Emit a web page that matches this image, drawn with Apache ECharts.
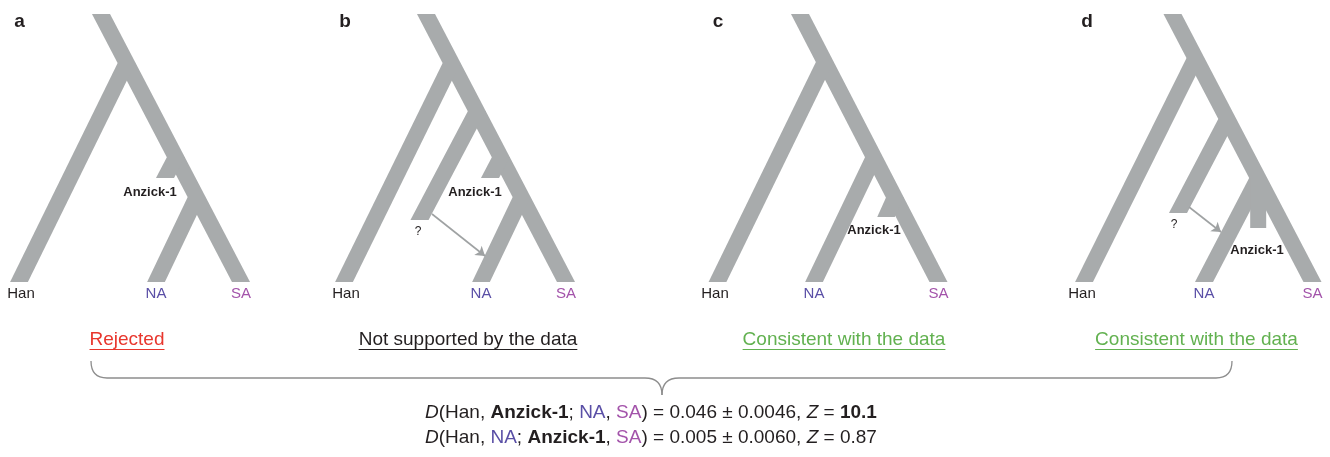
<!DOCTYPE html>
<html>
<head>
<meta charset="utf-8">
<script src="https://cdn.jsdelivr.net/npm/echarts@6/dist/echarts.min.js"></script>
<style>
  html, body { margin: 0; padding: 0; background: #ffffff; }
  #main { width: 1330px; height: 457px; }
</style>
</head>
<body>
<div id="main"></div>
<script>
// panel letters and their left offset on the page
const panelNames = ['a', 'b', 'c', 'd'];
const panelLeft = [0, 325, 699, 1071];
const panelWidth = 255;

// tree branches per panel: [x0, y0, x1, y1] (panel units, y grows toward present)
// first branch is the trunk root -> SA
const branchesA = [[101, 14, 241, 282], [126.6, 63, 19, 282], [176, 157, 165, 178], [196.6, 197, 156, 282]];
const branchesB = [[101, 14, 241, 282], [126.6, 63, 19, 282], [152, 111, 94.5, 220], [176, 157, 165, 178], [196.6, 197, 156, 282]];
const branchesC = [[101, 14, 239.5, 282], [125.8, 62, 18.5, 282], [175, 157, 115, 282], [196, 197, 187, 217]];
const branchesD = [[101.5, 14, 241.5, 282], [124.5, 58, 13, 282], [156.3, 119, 107, 213], [187.2, 178, 133, 282], [187.2, 178, 187.2, 228]];

// tip labels
const tipNames = ['Han', 'NA', 'SA'];
const tipX = [[21, 156, 241], [21, 156, 241], [16, 115, 239.5], [11, 133, 241.5]];
const tipLabelY = 294;

// Anzick-1 label position per panel
const anzickPos = [[150, 192], [150, 192], [175, 230], [186, 250]];
const panelLetterX = [19.5, 20, 19, 16];

// migration arrows (panel b and d) and the "?" marks
const arrowB = [[107, 214], [160, 256]];
const arrowD = [[118, 207], [150, 232]];
const questionB = [93, 232];
const questionD = [103, 225];

// verdict under each panel
const verdicts = ['Rejected', 'Not supported by the data', 'Consistent with the data', 'Consistent with the data'];
const verdictColors = ['#e8362d', '#231f20', '#62b150', '#62b150'];
const verdictX = [127, 468, 844, 1196.5];

const branchColor = '#a8abac';
const naColor = '#5a4fa6';
const saColor = '#a353aa';
const fontFamily = '"Liberation Sans", Arial, Helvetica, sans-serif';
const branchThick = 16;

const chart = echarts.init(document.getElementById('main'));

function renderBranch(params, api) {
  const p0 = api.coord([api.value(0), api.value(1)]);
  const p1 = api.coord([api.value(2), api.value(3)]);
  const dx = p1[0] - p0[0], dy = p1[1] - p0[1];
  const len = Math.sqrt(dx * dx + dy * dy);
  // half width along horizontal so that the perpendicular thickness is constant
  const hw = branchThick / 2 * len / Math.abs(dy);
  return {
    type: 'polygon',
    shape: { points: [[p0[0] - hw, p0[1]], [p0[0] + hw, p0[1]], [p1[0] + hw, p1[1]], [p1[0] - hw, p1[1]]] },
    style: { fill: branchColor }
  };
}

function renderLabel(params, api) {
  const p = api.coord([api.value(0), api.value(1)]);
  const txt = api.value(2);
  const kind = api.value(3);
  let fill = '#231f20', weight = 'normal', size = 15;
  if (kind === 'NA') fill = naColor;
  if (kind === 'SA') fill = saColor;
  if (kind === 'anz') { weight = 'bold'; size = 13; }
  if (kind === 'q') { size = 12; }
  if (kind === 'panel') { weight = 'bold'; size = 19; }
  return {
    type: 'text',
    x: p[0], y: p[1],
    style: { text: txt, fill: fill, font: weight + ' ' + size + 'px ' + fontFamily, align: 'center', verticalAlign: 'middle' }
  };
}

const allBranches = [branchesA, branchesB, branchesC, branchesD];
const grids = [], xAxes = [], yAxes = [], series = [];

panelNames.forEach((name, i) => {
  grids.push({ left: panelLeft[i], top: 0, width: panelWidth, height: 457 });
  xAxes.push({ type: 'value', gridIndex: i, min: 0, max: panelWidth, show: false });
  yAxes.push({ type: 'value', gridIndex: i, min: 0, max: 457, inverse: true, show: false });

  series.push({
    type: 'custom', xAxisIndex: i, yAxisIndex: i, silent: true,
    renderItem: renderBranch, encode: { x: [0, 2], y: [1, 3] },
    data: allBranches[i]
  });

  const labels = tipNames.map((t, k) => [tipX[i][k], tipLabelY, t, t]);
  labels.push([anzickPos[i][0], anzickPos[i][1], 'Anzick-1', 'anz']);
  labels.push([panelLetterX[i], 22, name, 'panel']);
  if (i === 1) labels.push([questionB[0], questionB[1], '?', 'q']);
  if (i === 3) labels.push([questionD[0], questionD[1], '?', 'q']);
  series.push({
    type: 'custom', xAxisIndex: i, yAxisIndex: i, silent: true,
    renderItem: renderLabel, encode: { x: 0, y: 1 },
    data: labels
  });
});

[[1, arrowB], [3, arrowD]].forEach(([gi, arr]) => {
  series.push({
    type: 'lines', coordinateSystem: 'cartesian2d', xAxisIndex: gi, yAxisIndex: gi, silent: true,
    symbol: ['none', 'arrow'], symbolSize: 9,
    lineStyle: { color: '#9fa2a3', width: 1.6, opacity: 1 },
    data: [{ coords: arr }]
  });
});

// measure text to draw underlines
const ctx = document.createElement('canvas').getContext('2d');
const verdictFont = '19px ' + fontFamily;
ctx.font = verdictFont;

const graphics = [];
verdicts.forEach((t, i) => {
  const w = ctx.measureText(t).width;
  graphics.push({
    type: 'text', x: verdictX[i], y: 340,
    style: { text: t, font: verdictFont, fill: verdictColors[i], align: 'center', verticalAlign: 'middle' }
  });
  graphics.push({
    type: 'line', shape: { x1: verdictX[i] - w / 2, y1: 349.5, x2: verdictX[i] + w / 2, y2: 349.5 },
    style: { stroke: verdictColors[i], lineWidth: 1.2 }
  });
});

// curly brace joining the four panels
const braceStyle = { stroke: '#8d8d8d', lineWidth: 1.3, fill: null };
graphics.push(
  { type: 'bezierCurve', shape: { x1: 91, y1: 361, cpx1: 91, cpy1: 378, x2: 107, y2: 378 }, style: braceStyle },
  { type: 'line', shape: { x1: 107, y1: 378, x2: 645, y2: 378 }, style: braceStyle },
  { type: 'bezierCurve', shape: { x1: 645, y1: 378, cpx1: 662, cpy1: 378, x2: 662, y2: 395 }, style: braceStyle },
  { type: 'bezierCurve', shape: { x1: 662, y1: 395, cpx1: 662, cpy1: 378, x2: 679, y2: 378 }, style: braceStyle },
  { type: 'line', shape: { x1: 679, y1: 378, x2: 1216, y2: 378 }, style: braceStyle },
  { type: 'bezierCurve', shape: { x1: 1216, y1: 378, cpx1: 1232, cpy1: 378, x2: 1232, y2: 361 }, style: braceStyle }
);

const fs = 19;
const richStyles = {
  i: { fontStyle: 'italic', fill: '#231f20', fontSize: fs, fontFamily: fontFamily },
  b: { fontWeight: 'bold', fill: '#231f20', fontSize: fs, fontFamily: fontFamily },
  na: { fill: naColor, fontSize: fs, fontFamily: fontFamily },
  sa: { fill: saColor, fontSize: fs, fontFamily: fontFamily }
};
graphics.push(
  {
    type: 'text', x: 425, y: 413,
    style: {
      text: '{i|D}(Han, {b|Anzick-1}; {na|NA}, {sa|SA}) = 0.046 ± 0.0046, {i|Z} = {b|10.1}',
      rich: richStyles, fill: '#231f20', fontSize: fs, fontFamily: fontFamily, verticalAlign: 'middle'
    }
  },
  {
    type: 'text', x: 425, y: 438,
    style: {
      text: '{i|D}(Han, {na|NA}; {b|Anzick-1}, {sa|SA}) = 0.005 ± 0.0060, {i|Z} = 0.87',
      rich: richStyles, fill: '#231f20', fontSize: fs, fontFamily: fontFamily, verticalAlign: 'middle'
    }
  }
);

chart.setOption({
  animation: false,
  grid: grids,
  xAxis: xAxes,
  yAxis: yAxes,
  series: series,
  graphic: { elements: graphics }
});
</script>
</body>
</html>
